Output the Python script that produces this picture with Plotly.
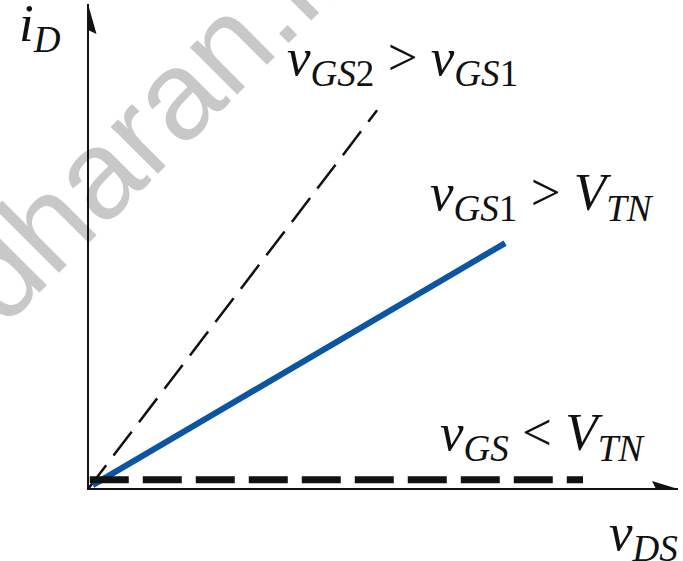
import plotly.graph_objects as go

# Sketch of i_D versus v_DS for an NMOS device near the origin (arbitrary units)
vds_gs2 = [0.0, 4.90]      # v_GS2 > v_GS1 (steeper, dashed)
id_gs2 = [0.0, 7.81]
vds_gs1 = [0.08, 7.07]     # v_GS1 > V_TN (solid blue)
id_gs1 = [0.08, 5.07]
vds_off = [0.03, 8.39]     # v_GS < V_TN (device off, i_D ~ 0)
id_off = [0.19, 0.19]

X_MAX = 10.0
Y_MAX = 10.0

W, H = 683, 561
L, R, T, B = 88, 5, 4, 72


def px(xp):
    return (xp - L) / (W - L - R)


def py(yp):
    return (H - B - yp) / (H - T - B)


INK = "#111111"
SERIF = "Liberation Serif"
FS = 53

fig = go.Figure()
fig.add_trace(go.Scatter(x=vds_gs2, y=id_gs2, mode="lines",
                         line=dict(color=INK, width=2.5, dash="30px,12px"),
                         hoverinfo="skip"))
fig.add_trace(go.Scatter(x=vds_gs1, y=id_gs1, mode="lines",
                         line=dict(color="#0b55a2", width=6),
                         hoverinfo="skip"))
fig.add_trace(go.Scatter(x=vds_off, y=id_off, mode="lines",
                         line=dict(color=INK, width=7, dash="39px,14px"),
                         hoverinfo="skip"))

annotations = [
    # faint watermark behind the axes
    dict(text="dharan.in", x=px(158), y=py(113), xref="paper", yref="paper",
         xanchor="center", yanchor="middle",
         showarrow=False, textangle=-45,
         font=dict(family="Liberation Sans", size=126, color="#c8c8c8")),
    # axis lines
    dict(text="", x=0, y=Y_MAX, xref="x", yref="y", ax=0, ay=-0.05,
         axref="x", ayref="y", showarrow=True, arrowhead=0, arrowwidth=2,
         arrowcolor=INK, standoff=0),
    dict(text="", x=X_MAX, y=0, xref="x", yref="y", ax=-0.03, ay=0,
         axref="x", ayref="y", showarrow=True, arrowhead=0, arrowwidth=2,
         arrowcolor=INK, standoff=0),
]


def label(text, xp, yp, xanchor="left"):
    return dict(text=text, x=px(xp), y=py(yp), xref="paper", yref="paper",
                xanchor=xanchor, yanchor="bottom", showarrow=False,
                font=dict(family=SERIF, size=FS, color=INK))


annotations += [
    label("<i>i</i><sub><i>D</i></sub>", 17, 62),
    label("<i>v</i><sub><i>GS</i>2</sub> &gt; <i>v</i><sub><i>GS</i>1</sub>", 285, 96),
    label("<i>v</i><sub><i>GS</i>1</sub> &gt; <i>V</i><sub><i>TN</i></sub>", 428, 231),
    label("<i>v</i><sub><i>GS</i></sub> &lt; <i>V</i><sub><i>TN</i></sub>", 438, 471),
    label("<i>v</i><sub><i>DS</i></sub>", 680, 571, xanchor="right"),
]

# arrowheads at the ends of both axes (pixel-sized paths)
shapes = [
    dict(type="path", xref="x", yref="y", xsizemode="pixel", ysizemode="pixel",
         xanchor=0, yanchor=Y_MAX, path="M0,0 L-8.5,-30 L0,-26 L8.5,-30 Z",
         fillcolor=INK, line=dict(width=0)),
    dict(type="path", xref="x", yref="y", xsizemode="pixel", ysizemode="pixel",
         xanchor=X_MAX, yanchor=0, path="M0,0 L-26,8 L-22,0 L-26,-8 Z",
         fillcolor=INK, line=dict(width=0)),
]

fig.update_layout(
    width=W, height=H,
    margin=dict(l=L, r=R, t=T, b=B, pad=0),
    paper_bgcolor="white", plot_bgcolor="white",
    showlegend=False,
    xaxis=dict(range=[0, X_MAX], visible=False, fixedrange=True),
    yaxis=dict(range=[0, Y_MAX], visible=False, fixedrange=True),
    annotations=annotations,
    shapes=shapes,
)

fig.write_html("out.html", config={"displayModeBar": False})
